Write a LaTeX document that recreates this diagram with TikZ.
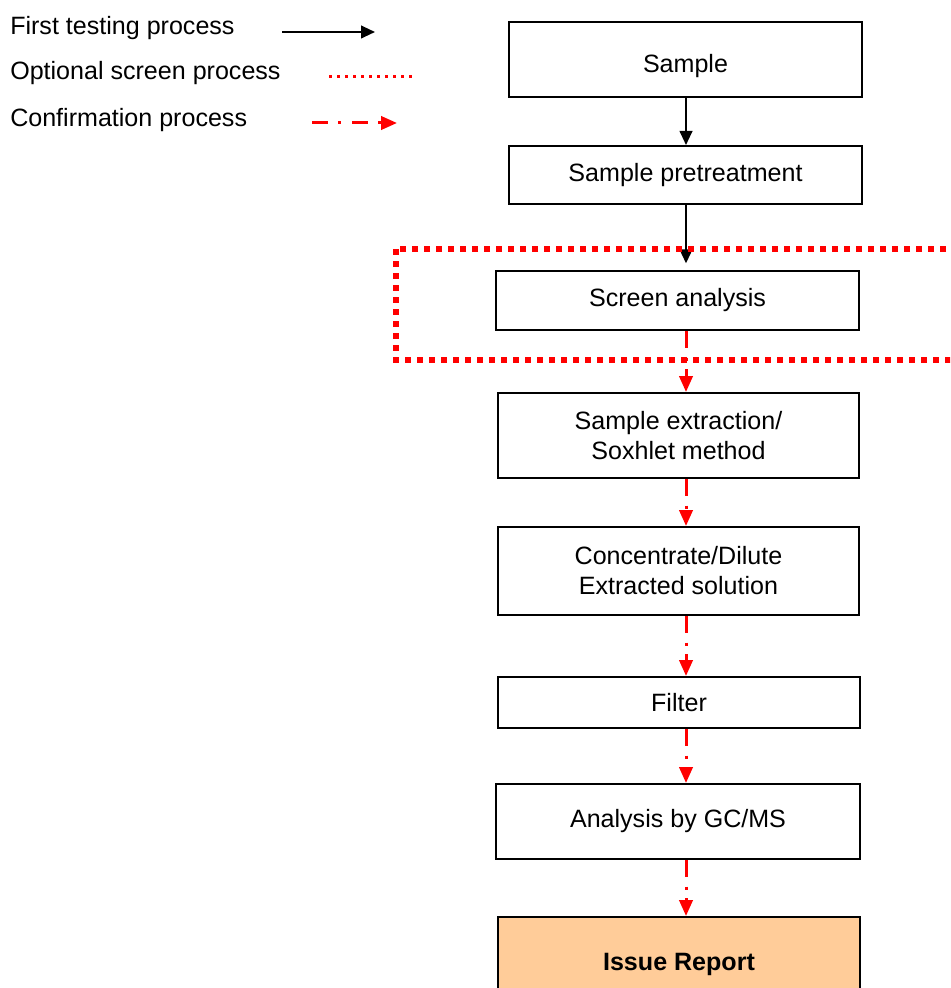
\documentclass[tikz,border=0pt]{standalone}
\usepackage{fontspec}
\setmainfont{Liberation Sans}
\usetikzlibrary{arrows.meta}
\definecolor{peach}{HTML}{FFCC99}
\tikzset{
  stepbox/.style={draw=black, line width=1.5pt, inner sep=0pt, align=center,
    font=\fontsize{18.8pt}{22.5pt}\selectfont},
  first/.style={draw=black, line width=1.5pt, -{Triangle[width=9.5pt,length=10.5pt]}},
  conf/.style={draw=red, line width=2.25pt, dash pattern=on 13pt off 7pt on 2.5pt off 6pt,
    -{Triangle[width=10pt,length=12pt]}},
  optbox/.style={draw=red, line width=4pt, dash pattern=on 4.5pt off 4.5pt},
  legtext/.style={anchor=base west, inner sep=0pt, font=\fontsize{18.8pt}{22.5pt}\selectfont},
}
\begin{document}
\begin{tikzpicture}[x=0.75pt, y=-0.75pt]
\clip (0,0) rectangle (950,988);
\fill[white] (0,0) rectangle (950,988);

% legend
\node[legtext] (l1) at (10,35) {First testing process};
\node[legtext] (l2) at (10,80) {Optional screen process};
\node[legtext] (l3) at (10,127) {Confirmation process};
\coordinate (l1a) at (282,32);
\coordinate (l1b) at (375,32);
\coordinate (l2a) at (329,77);
\coordinate (l2b) at (416,77);
\coordinate (l3a) at (312,123);
\coordinate (l3b) at (397,123);
\draw[first] (l1a) -- (l1b);
\draw[draw=red, line width=2.25pt, dash pattern=on 2.25pt off 3.75pt] (l2a) -- (l2b);
\draw[conf, dash pattern=on 12pt off 7.5pt on 2.5pt off 8pt] (l3a) -- (l3b);

% boxes
\node[stepbox, minimum width={353*0.75pt}, minimum height={75*0.75pt}] (sample) at (685.5,59.5) {\raisebox{-5pt}[\height][\depth]{Sample}};
\node[stepbox, minimum width={353*0.75pt}, minimum height={58*0.75pt}] (pre) at (685.5,175) {Sample pretreatment};
\node[stepbox, minimum width={363*0.75pt}, minimum height={59*0.75pt}] (screen) at (677.5,300.5) {Screen analysis};
\node[stepbox, minimum width={361*0.75pt}, minimum height={85*0.75pt}] (extr) at (678.5,435.5) {Sample extraction/\\Soxhlet method};
\node[stepbox, minimum width={361*0.75pt}, minimum height={88*0.75pt}] (conc) at (678.5,571) {Concentrate/Dilute\\Extracted solution};
\node[stepbox, minimum width={362*0.75pt}, minimum height={51*0.75pt}] (filter) at (679,702.5) {Filter};
\node[stepbox, minimum width={364*0.75pt}, minimum height={75*0.75pt}] (gcms) at (678,821.5) {Analysis by GC/MS};
\node[stepbox, fill=peach, minimum width={362*0.75pt}, minimum height={100*0.75pt},
  font=\fontsize{18.8pt}{22.5pt}\selectfont\bfseries, text depth=0pt] (report) at (679,967) {\raisebox{8pt}{Issue Report}};

% connectors
\coordinate (ax) at (686,0);
\draw[first] (sample.south -| ax) -- (pre.north -| ax);
\draw[first, shorten >=5pt] (pre.south -| ax) -- (screen.north -| ax);
\draw[conf] (screen.south -| ax) -- (extr.north -| ax);
\draw[conf] (extr.south -| ax) -- (conc.north -| ax);
\draw[conf] (conc.south -| ax) -- (filter.north -| ax);
\draw[conf] (filter.south -| ax) -- (gcms.north -| ax);
\draw[conf] (gcms.south -| ax) -- (report.north -| ax);

% optional screen region
\coordinate (o1) at (396,249);
\coordinate (o2) at (1010,360);
\draw[optbox] (o1) rectangle (o2);
\end{tikzpicture}
\end{document}
